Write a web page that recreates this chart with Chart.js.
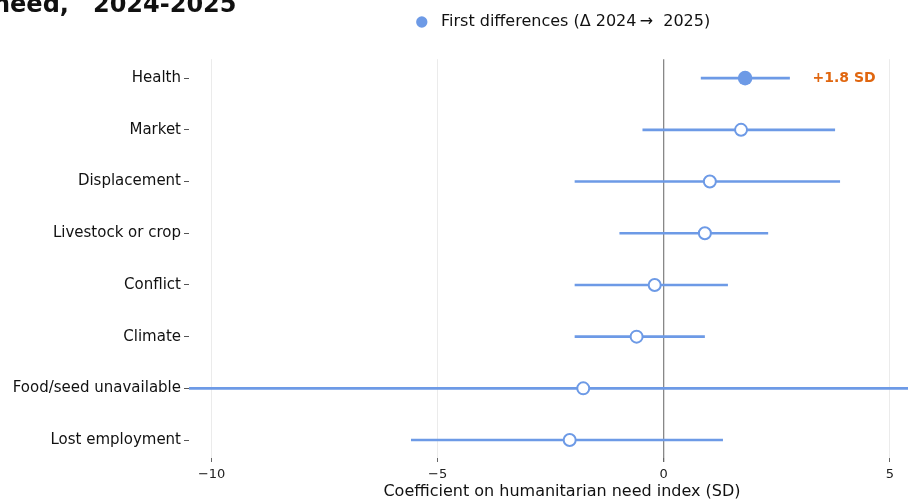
<!DOCTYPE html>
<html><head><meta charset="utf-8">
<script src="https://cdn.jsdelivr.net/npm/chart.js@4.4.1/dist/chart.umd.min.js"></script>
<style>
html,body{margin:0;padding:0;background:#fff;overflow:hidden;}
#wrap{width:943px;height:501px;position:relative;}
canvas{display:block;}
</style></head><body>
<div id="wrap"><canvas id="c" width="943" height="501" style="width:943px;height:501px"></canvas></div>
<script>
// ---- data ----
const categories = ["Health","Market","Displacement","Livestock or crop","Conflict","Climate","Food/seed unavailable","Lost employment"];
const estimates  = [1.80, 1.71, 1.02, 0.91, -0.20, -0.60, -1.78, -2.08];
const ciLow      = [0.82, -0.47, -1.97, -0.98, -1.97, -1.97, -12.0, -5.59];
const ciHigh     = [2.79, 3.79, 3.90, 2.31, 1.42, 0.91, 8.5, 1.31];
const significant = [true, false, false, false, false, false, false, false];
const noteLabels = ["+1.8 SD", "", "", "", "", "", "", ""];
const xTickValues = [-10, -5, 0, 5];
const seriesName = "\u2009First differences (\u0394 2024\u2009\u2192 \u00a02025)";
const titleText = "need,\u20032024-2025";
const xTitle = "Coefficient on humanitarian need index (SD)";

const BLUE = '#6d9ae6';
const ORANGE = '#e0660f';
const FONT = "'DejaVu Sans', sans-serif";

const ciDatasets = categories.map((c, i) => ({
  type: 'line',
  label: 'ci-' + c,
  data: [{x: ciLow[i], y: i}, {x: ciHigh[i], y: i}],
  borderColor: BLUE,
  borderWidth: 2.6,
  pointRadius: 0,
  showLine: true,
  fill: false,
  order: 2
}));

const pointDataset = {
  type: 'scatter',
  label: seriesName,
  data: estimates.map((v, i) => ({x: v, y: i})),
  pointRadius: significant.map(s => s ? 7.3 : 6),
  pointBackgroundColor: significant.map(s => s ? BLUE : '#ffffff'),
  pointBorderColor: BLUE,
  pointBorderWidth: significant.map(s => s ? 0 : 2),
  order: 0
};

const extras = {
  id: 'extras',
  afterDatasetsDraw(chart) {
    const {ctx, scales: {x, y}} = chart;
    ctx.save();
    ctx.font = "bold 14px " + FONT;
    ctx.fillStyle = ORANGE;
    ctx.textAlign = 'left';
    ctx.textBaseline = 'middle';
    noteLabels.forEach((t, i) => {
      if (!t) return;
      ctx.fillText(t, x.getPixelForValue(ciHigh[i] + 0.5), y.getPixelForValue(i));
    });
    ctx.restore();
  },
  afterDraw(chart) {
    const ctx = chart.ctx;
    ctx.save();
    ctx.font = "bold 24px " + FONT;
    ctx.fillStyle = '#111';
    ctx.textAlign = 'left';
    ctx.textBaseline = 'alphabetic';
    ctx.fillText(titleText, -7, 12);
    ctx.restore();
  }
};

new Chart(document.getElementById('c'), {
  type: 'scatter',
  data: { datasets: [pointDataset, ...ciDatasets] },
  options: {
    responsive: false,
    animation: false,
    devicePixelRatio: 1,
    layout: { padding: { top: 4, right: 1, left: 0, bottom: 0 } },
    plugins: {
      tooltip: { enabled: false },
      subtitle: {
        display: true,
        text: ' ',
        position: 'top',
        weight: 500,
        fullSize: false,
        font: { size: 1 },
        padding: { top: 0, bottom: 18 }
      },
      legend: {
        position: 'top',
        fullSize: false,
        labels: {
          usePointStyle: true,
          pointStyle: 'circle',
          boxWidth: 16,
          boxHeight: 8,
          padding: 10,
          color: '#111',
          font: { family: FONT, size: 16 },
          filter: item => item.datasetIndex === 0,
          generateLabels: chart => [{
            text: seriesName,
            fillStyle: BLUE,
            strokeStyle: BLUE,
            lineWidth: 0,
            pointStyle: 'circle',
            datasetIndex: 0,
            fontColor: '#111'
          }]
        }
      }
    },
    scales: {
      x: {
        type: 'linear',
        min: -10.5,
        max: 6.0,
        afterBuildTicks: s => { s.ticks = xTickValues.map(v => ({value: v})); },
        afterFit: s => { s.height = 43; },
        border: { display: false },
        grid: {
          color: c => (c.tick && c.tick.value === 0) ? '#888888' : '#ebebeb',
          lineWidth: c => (c.tick && c.tick.value === 0) ? 1.3 : 1,
          tickColor: '#666',
          tickLength: 4,
          drawTicks: true
        },
        ticks: {
          color: '#222',
          font: { family: FONT, size: 13 },
          padding: 5,
          callback: v => String(v).replace('-', '\u2212')
        },
        title: {
          display: true,
          text: xTitle,
          color: '#111',
          font: { family: FONT, size: 16 },
          padding: { top: 0, bottom: 0 }
        }
      },
      y: {
        type: 'linear',
        reverse: true,
        min: -0.366,
        max: 7.347,
        afterBuildTicks: s => { s.ticks = categories.map((c, i) => ({value: i})); },
        afterFit: s => { s.width = 189; },
        border: { display: false },
        grid: {
          drawOnChartArea: false,
          drawTicks: true,
          tickLength: 5,
          tickColor: '#555'
        },
        ticks: {
          color: '#111',
          font: { family: FONT, size: 15 },
          padding: 3,
          callback: v => categories[v] ?? ''
        }
      }
    }
  },
  plugins: [extras]
});
</script>
</body></html>
